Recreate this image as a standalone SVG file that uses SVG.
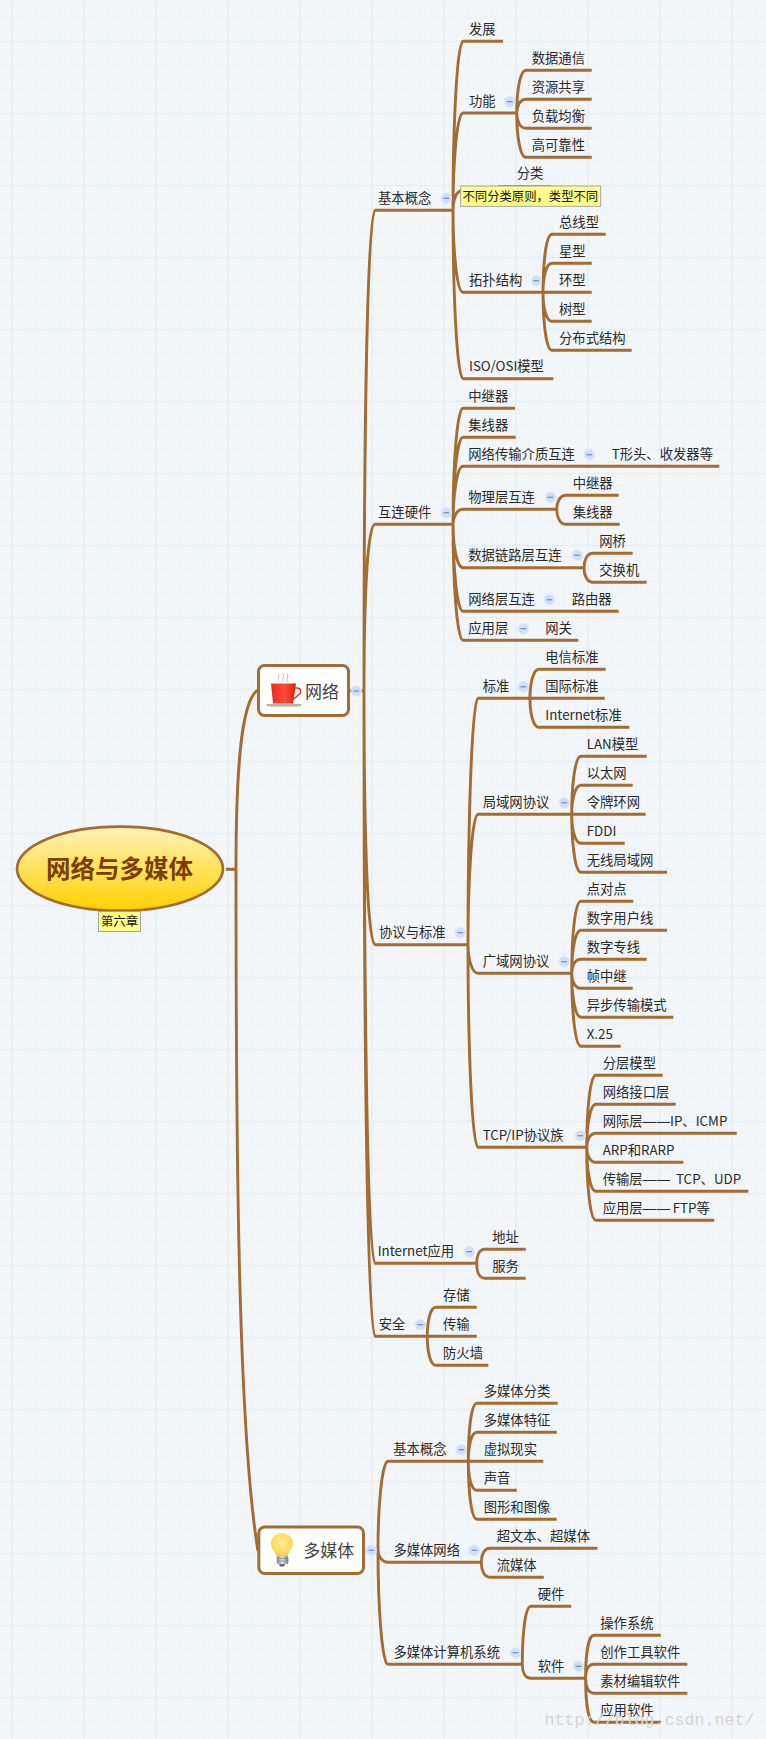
<svg xmlns="http://www.w3.org/2000/svg" width="766" height="1739" viewBox="0 0 766 1739">
<style>
text{font-family:"Noto Sans CJK SC","Noto Sans",sans-serif;font-size:13.33px;fill:#2a2a2a}
.c{fill:none;stroke:#a26c32;stroke-width:2.9}
.box{fill:#fff;stroke:#a26c32;stroke-width:3}
.big{font-size:17px;fill:#444}
.tip{fill:#ffff88;stroke:#a3a3a3;stroke-width:1}
.tipt{font-size:12.33px;fill:#111}
.wm{font-family:"Liberation Mono",monospace;font-size:16.67px;fill:#d6d6d2}
.g1{fill:none;stroke:#ebf3f7;stroke-width:1}
.g2{fill:none;stroke:#e2eef6;stroke-width:1.3}
.dash{font-family:"Liberation Sans",sans-serif;letter-spacing:.7px}
</style>
<defs>
<pattern id="grid" width="72" height="72" patternUnits="userSpaceOnUse">
<rect width="72" height="72" fill="#f3f6f9"/>
<path class="g1" d="M24.5 0V72M36.5 0V72M48.5 0V72M60.5 0V72M72 0V72M0 5.5H72M0 17.5H72M0 29.5H72M0 53.5H72M0 65.5H72"/>
<path class="g2" d="M12 0V72M0 41.5H72"/>
</pattern>
<g id="t"><circle r="5.2" fill="#cfdefa" stroke="#dfe8f8" stroke-width="1"/><path d="M-2.8 0H2.8" stroke="#7693c6" stroke-width="1.3"/></g>
<linearGradient id="rootg" x1="0" y1="0" x2="0" y2="1"><stop offset="0" stop-color="#fff2b8"/><stop offset="1" stop-color="#ffd100"/></linearGradient>
<linearGradient id="cup" x1="0" y1="0" x2="1" y2="0"><stop offset="0" stop-color="#e62d1b"/><stop offset=".55" stop-color="#ff4b38"/><stop offset="1" stop-color="#d9200f"/></linearGradient>
<radialGradient id="bulb" cx=".5" cy=".42" r=".6"><stop offset="0" stop-color="#ffec96"/><stop offset=".7" stop-color="#ffdc60"/><stop offset="1" stop-color="#f8c23c"/></radialGradient>
<linearGradient id="screw" x1="0" y1="0" x2="1" y2="0"><stop offset="0" stop-color="#8c8c8c"/><stop offset=".5" stop-color="#dedede"/><stop offset="1" stop-color="#777"/></linearGradient>
</defs>
<rect width="766" height="1739" fill="url(#grid)"/>
<g id="connectors">
<path class="c" d="M226 869.3H236M236 869.3C236 780 240 700 258 690M236 869.3C236 1150 238 1430 258 1551"/>
<path class="c" d="M349 690.8H364M364 690C364 450 367 210.3 375 210.3H453M364 690C364 607 367 524.3 375 524.3H453M364 690C364 817 367 944.7 375 944.7H468M364 690C364 976 367 1263.3 375 1263.3H476.7M364 690C364 1013 367 1336.3 375 1336.3H427.3"/>
<path class="c" d="M453 210.3C453 126 457 41.3 463 41.3H503M453 210.3C453 162 457 113 463 113H516.7M453 210.3C453 200 456 190 464 190H500V186.7H550.7M453 210.3C453 251 457 292.3 463 292.3H543M453 210.3C453 294 457 378.7 463 378.7H553.3"/>
<path class="c" d="M516.700 113C516.700 92 520 70.300 526 70.300H591.700M516.700 113C516.700 106 520 99.300 526 99.300H591.700M516.700 113C516.700 121 520 128.300 526 128.300H591.700M516.700 113C516.700 135 520 157.300 526 157.300H591.700"/>
<path class="c" d="M543 292.300C543 263 546 234.300 552 234.300H605.700M543 292.300C543 278 546 263.300 552 263.300H591.700M543 292.300H591.700M543 292.300C543 307 546 321.300 552 321.300H591.700M543 292.300C543 321 546 350.300 552 350.300H631.700"/>
<path class="c" d="M453 524.300C453 466 457 408.300 463 408.300H515M453 524.300C453 481 457 437.300 463 437.300H515.700M453 524.300C453 495 457 466.300 463 466.300H719.300M453 524.300C453 517 457 509.300 463 509.300H556.700M453 524.300C453 546 457 567.700 463 567.700H584M453 524.300C453 568 457 611.300 463 611.300H618.700M453 524.300C453 582 457 640.300 463 640.300H578.300"/>
<path class="c" d="M556.700 509.300C556.700 502 560 495.300 566 495.300H618.700M556.700 509.300C556.700 517 560 524.300 566 524.300H619.700"/>
<path class="c" d="M584 567.700C584 560 587 553.300 593 553.300H632.700M584 567.700C584 575 587 582.300 593 582.300H646.700"/>
<path class="c" d="M468 944.700C468 821 472 698.300 478 698.300H530M468 944.700C468 880 472 814.300 478 814.300H571.700M468 944.700C468 959 472 973.300 478 973.300H571.700M468 944.700C468 1046 472 1147.300 478 1147.300H586.700"/>
<path class="c" d="M530 698.300C530 684 533 669.300 539 669.300H605.700M530 698.300H604.700M530 698.300C530 713 533 727.300 539 727.300H629.300"/>
<path class="c" d="M571.700 814.300C571.700 785 575 756.300 581 756.300H646.700M571.700 814.300C571.700 800 575 785.300 581 785.300H632.700M571.700 814.300H645.700M571.700 814.300C571.700 829 575 843.300 581 843.300H624.700M571.700 814.300C571.700 843 575 872.300 581 872.300H667"/>
<path class="c" d="M571.700 973.300C571.700 937 575 901.300 581 901.300H633.300M571.700 973.300C571.700 952 575 930.300 581 930.300H667M571.700 973.300C571.700 966 575 959.300 581 959.300H646.700M571.700 973.300C571.700 981 575 988.300 581 988.300H632.700M571.700 973.300C571.700 995 575 1017.300 581 1017.300H673.300M571.700 973.300C571.700 1010 575 1046.300 581 1046.300H620.700"/>
<path class="c" d="M586.700 1147.300C586.700 1111 590 1075.300 596 1075.300H662.700M586.700 1147.300C586.700 1126 590 1104.300 596 1104.300H675.700M586.700 1147.300C586.700 1140 590 1133.300 596 1133.300H736.700M586.700 1147.300C586.700 1155 590 1162.300 596 1162.300H683.300M586.700 1147.300C586.700 1169 590 1191.300 596 1191.300H748.300M586.700 1147.300C586.700 1184 590 1220.300 596 1220.300H714.300"/>
<path class="c" d="M476.700 1263.300C476.700 1256 479 1249.300 485 1249.300H525.700M476.700 1263.300C476.700 1271 479 1278.300 485 1278.300H525.700"/>
<path class="c" d="M427.300 1336.300C427.300 1322 430 1307.300 436 1307.300H476.700M427.300 1336.300H476.700M427.300 1336.300C427.300 1351 430 1365.300 436 1365.300H488.300"/>
<path class="c" d="M366 1550.300H378M378 1550.300C378 1506 382 1461.300 388 1461.300H468.300M378 1550.300C378 1556 382 1562.300 388 1562.300H481.300M378 1550.300C378 1607 382 1664.300 388 1664.300H522.300"/>
<path class="c" d="M468.300 1461.300C468.300 1432 471 1403.300 477 1403.300H557.700M468.300 1461.300C468.300 1447 471 1432.300 477 1432.300H556.700M468.300 1461.300H543.300M468.300 1461.300C468.300 1476 471 1490.300 477 1490.300H516.700M468.300 1461.300C468.300 1490 471 1519.300 477 1519.300H556.700"/>
<path class="c" d="M481.300 1562.300C481.300 1555 484 1548.300 490 1548.300H597.500M481.300 1562.300C481.300 1570 484 1577.300 490 1577.300H543.800"/>
<path class="c" d="M522.300 1664.300C522.300 1635 525 1606.300 531 1606.300H571.200M522.300 1664.300C522.300 1672 525 1678.300 531 1678.300H585.600"/>
<path class="c" d="M585.600 1678.300C585.600 1657 588 1635.300 594 1635.300H660.800M585.600 1678.300C585.600 1671 588 1664.300 594 1664.300H687.400M585.600 1678.300C585.600 1686 588 1693.300 594 1693.300H687.400M585.600 1678.300C585.600 1700 588 1722.300 594 1722.300H660.800"/>
</g>
<g id="root"><ellipse cx="120" cy="868.7" rx="103" ry="42" fill="url(#rootg)" stroke="#a26c32" stroke-width="2.7"/><text x="119.5" y="878" text-anchor="middle" font-weight="700" style="font-size:24.5px;fill:#7a3f00">网络与多媒体</text></g>
<g id="root-note"><rect class="tip" x="98.5" y="911.5" width="42" height="20"/><text class="tipt" x="101" y="926">第六章</text></g>
<g id="net"><rect class="box" x="258.5" y="665.5" width="90" height="50" rx="6"/>
<path d="M278.500 681.500c-1.500-2.500 1.500-4 0-8M283 681.500c-1.500-2.500 1.500-4 0-8M287.500 681.500c-1.500-2.500 1.500-4 0-8" fill="none" stroke="#bdbdbd" stroke-width=".9"/>
<path d="M294 688h3.500c3.500 0 4 4.500 1.500 6.500l-6 5" fill="none" stroke="#e8301e" stroke-width="1.500"/>
<path d="M271 683.500H296L293 703.500H273Z" fill="url(#cup)"/>
<path d="M266.500 705H301.500" stroke="#9a9a9a" stroke-width="1.500"/><path d="M270 706.500H298" stroke="#cfcfcf" stroke-width="1"/>
<text class="big" x="305" y="698">网络</text><use href="#t" x="356.300" y="691"/></g>
<g id="mm"><rect class="box" x="258.800" y="1527" width="104.700" height="46.500" rx="6"/>
<path d="M282 1533c6.500 0 11 4.800 11 10.800c0 5.200-4.500 7.500-5.500 12.700h-11c-1-5.200-5.500-7.500-5.500-12.700c0-6 4.500-10.800 11-10.800Z" fill="url(#bulb)"/>
<rect x="276.700" y="1556" width="11.600" height="8" rx="1.500" fill="url(#screw)"/><path d="M276.700 1558.500h11.600M276.700 1561h11.600" stroke="#888" stroke-width=".7"/><path d="M279 1564h6l-1 2.500h-4Z" fill="#666"/>
<text class="big" x="303.300" y="1557">多媒体</text><use href="#t" x="371.300" y="1550.300"/></g>
<g id="n1"><text x="378" y="202.800">基本概念</text><use href="#t" x="446.300" y="198.300"/></g>
<g id="n2"><text x="469" y="33.800">发展</text></g>
<g id="n3"><text x="469" y="105.500">功能</text><use href="#t" x="509.700" y="101.700"/></g>
<g id="n4"><text x="531.700" y="62.800">数据通信</text></g>
<g id="n5"><text x="531.700" y="91.800">资源共享</text></g>
<g id="n6"><text x="531.700" y="120.800">负载均衡</text></g>
<g id="n7"><text x="531.700" y="149.800">高可靠性</text></g>
<g id="n8"><text x="516.700" y="178">分类</text><rect class="tip" x="460.700" y="186" width="140" height="20.300"/><text class="tipt" x="462.500" y="201">不同分类原则，类型不同</text></g>
<g id="n9"><text x="469" y="284.800">拓扑结构</text><use href="#t" x="536.300" y="280.700"/></g>
<g id="n10"><text x="559" y="226.800">总线型</text></g>
<g id="n11"><text x="559" y="255.800">星型</text></g>
<g id="n12"><text x="559" y="284.800">环型</text></g>
<g id="n13"><text x="559" y="313.800">树型</text></g>
<g id="n14"><text x="559" y="342.800">分布式结构</text></g>
<g id="n15"><text x="469" y="371.200">ISO/OSI模型</text></g>
<g id="n16"><text x="378" y="516.800">互连硬件</text><use href="#t" x="446.300" y="512.700"/></g>
<g id="n17"><text x="468.300" y="400.800">中继器</text></g>
<g id="n18"><text x="468.300" y="429.800">集线器</text></g>
<g id="n19"><text x="468.300" y="458.800">网络传输介质互连</text><use href="#t" x="589.300" y="454.700"/></g>
<g id="n20"><text x="611.700" y="458.800">T形头、收发器等</text></g>
<g id="n21"><text x="468.300" y="501.800">物理层互连</text><use href="#t" x="550.300" y="497.300"/></g>
<g id="n22"><text x="572.700" y="487.800">中继器</text></g>
<g id="n23"><text x="572.700" y="516.800">集线器</text></g>
<g id="n24"><text x="468.300" y="560.200">数据链路层互连</text><use href="#t" x="577.300" y="555.300"/></g>
<g id="n25"><text x="599.300" y="545.800">网桥</text></g>
<g id="n26"><text x="599.300" y="574.800">交换机</text></g>
<g id="n27"><text x="468.300" y="603.800">网络层互连</text><use href="#t" x="549.300" y="599.700"/></g>
<g id="n28"><text x="571.700" y="603.800">路由器</text></g>
<g id="n29"><text x="468.300" y="632.800">应用层</text><use href="#t" x="523.300" y="628.700"/></g>
<g id="n30"><text x="545.300" y="632.800">网关</text></g>
<g id="n31"><text x="379" y="937.200">协议与标准</text><use href="#t" x="460.300" y="932.700"/></g>
<g id="n32"><text x="482.700" y="690.800">标准</text><use href="#t" x="523.300" y="686.700"/></g>
<g id="n33"><text x="545.300" y="661.800">电信标准</text></g>
<g id="n34"><text x="545.300" y="690.800">国际标准</text></g>
<g id="n35"><text x="545.300" y="719.800">Internet标准</text></g>
<g id="n36"><text x="482.700" y="806.800">局域网协议</text><use href="#t" x="564.300" y="802.700"/></g>
<g id="n37"><text x="586.700" y="748.800">LAN模型</text></g>
<g id="n38"><text x="586.700" y="777.800">以太网</text></g>
<g id="n39"><text x="586.700" y="806.800">令牌环网</text></g>
<g id="n40"><text x="586.700" y="835.800">FDDI</text></g>
<g id="n41"><text x="586.700" y="864.800">无线局域网</text></g>
<g id="n42"><text x="482.700" y="965.800">广域网协议</text><use href="#t" x="564.300" y="961.700"/></g>
<g id="n43"><text x="586.700" y="893.800">点对点</text></g>
<g id="n44"><text x="586.700" y="922.800">数字用户线</text></g>
<g id="n45"><text x="586.700" y="951.800">数字专线</text></g>
<g id="n46"><text x="586.700" y="980.800">帧中继</text></g>
<g id="n47"><text x="586.700" y="1009.800">异步传输模式</text></g>
<g id="n48"><text x="586.700" y="1038.800">X.25</text></g>
<g id="n49"><text x="482.700" y="1139.800">TCP/IP协议族</text><use href="#t" x="580.300" y="1135.700"/></g>
<g id="n50"><text x="602.700" y="1067.800">分层模型</text></g>
<g id="n51"><text x="602.700" y="1096.800">网络接口层</text></g>
<g id="n52"><text x="602.700" y="1125.800">网际层<tspan class="dash">——</tspan><tspan x="670">IP、ICMP</tspan></text></g>
<g id="n53"><text x="602.700" y="1154.800">ARP和RARP</text></g>
<g id="n54"><text x="602.700" y="1183.800">传输层<tspan class="dash">—— </tspan><tspan x="676">TCP、UDP</tspan></text></g>
<g id="n55"><text x="602.700" y="1212.800">应用层<tspan class="dash">——</tspan><tspan x="672.700">FTP等</tspan></text></g>
<g id="n56"><text x="377.700" y="1255.800">Internet应用</text><use href="#t" x="469.300" y="1251.700"/></g>
<g id="n57"><text x="492.300" y="1241.800">地址</text></g>
<g id="n58"><text x="492.300" y="1270.800">服务</text></g>
<g id="n59"><text x="378.700" y="1328.800">安全</text><use href="#t" x="420.300" y="1324.700"/></g>
<g id="n60"><text x="443" y="1299.800">存储</text></g>
<g id="n61"><text x="443" y="1328.800">传输</text></g>
<g id="n62"><text x="443" y="1357.800">防火墙</text></g>
<g id="n63"><text x="393.300" y="1453.800">基本概念</text><use href="#t" x="461.300" y="1449.700"/></g>
<g id="n64"><text x="483.700" y="1395.800">多媒体分类</text></g>
<g id="n65"><text x="483.700" y="1424.800">多媒体特征</text></g>
<g id="n66"><text x="483.700" y="1453.800">虚拟现实</text></g>
<g id="n67"><text x="483.700" y="1482.800">声音</text></g>
<g id="n68"><text x="483.700" y="1511.800">图形和图像</text></g>
<g id="n69"><text x="393.400" y="1554.800">多媒体网络</text><use href="#t" x="474.400" y="1550.300"/></g>
<g id="n70"><text x="496.700" y="1540.800">超文本、超媒体</text></g>
<g id="n71"><text x="496.700" y="1569.800">流媒体</text></g>
<g id="n72"><text x="393.400" y="1656.800">多媒体计算机系统</text><use href="#t" x="515.500" y="1652.700"/></g>
<g id="n73"><text x="537.700" y="1598.800">硬件</text></g>
<g id="n74"><text x="537.700" y="1670.800">软件</text><use href="#t" x="578.400" y="1666.300"/></g>
<g id="n75"><text x="600.300" y="1627.800">操作系统</text></g>
<g id="n76"><text x="600.300" y="1656.800">创作工具软件</text></g>
<g id="n77"><text x="600.300" y="1685.800">素材编辑软件</text></g>
<g id="n78"><text x="600.300" y="1714.800">应用软件</text></g>
<text class="wm" x="544.500" y="1725">http://blog.csdn.net/</text>
</svg>
